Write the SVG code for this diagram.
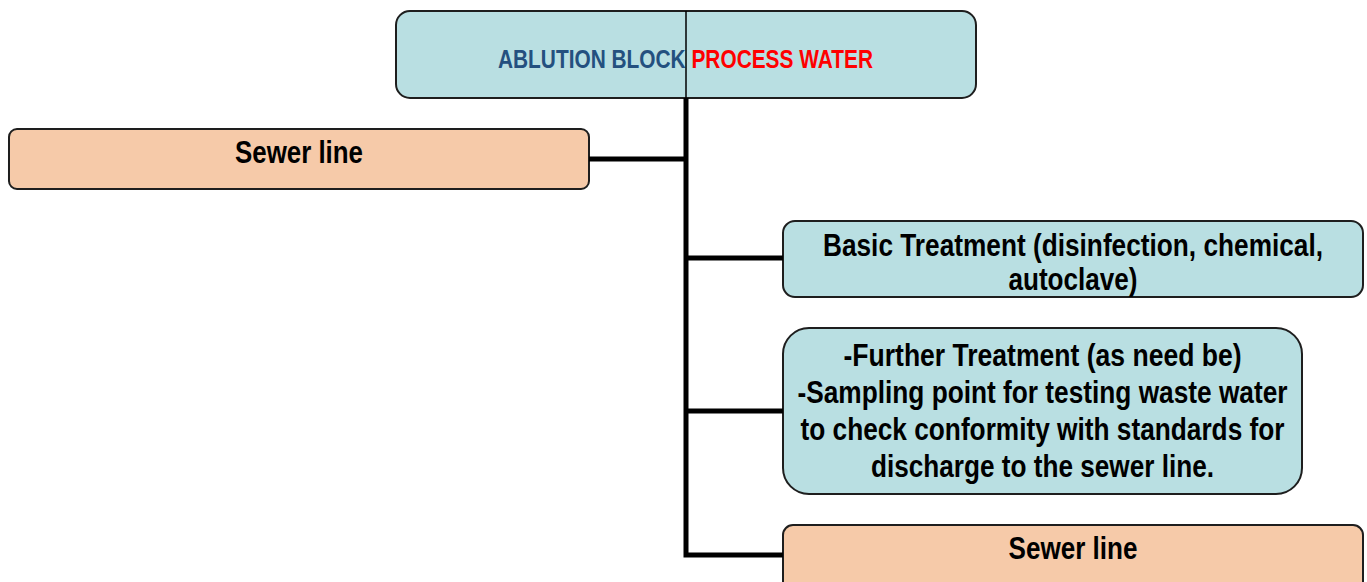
<svg xmlns="http://www.w3.org/2000/svg" width="1367" height="582" viewBox="0 0 1367 582">
<style>
.box{stroke:#1e1e1e;stroke-width:2}
.cyan{fill:#b9dfe2}
.peach{fill:#f6caa9}
.t{font-family:"Liberation Sans Narrow","Arial Narrow","Liberation Sans",sans-serif;font-weight:bold;font-size:32px;fill:#000;text-anchor:middle}
.hdr{font-size:25px}
.conn{fill:none;stroke:#000;stroke-width:5;stroke-linejoin:miter}
</style>
<rect width="1367" height="582" fill="#fff"/>
<g id="header">
<rect class="box cyan" x="396" y="11" width="580" height="87" rx="14"/>
<text class="t hdr" x="685.5" y="68" textLength="375" lengthAdjust="spacingAndGlyphs"><tspan fill="#24507f">ABLUTION BLOCK </tspan><tspan fill="#ff0000">PROCESS WATER</tspan></text>
</g>
<g id="sewer-left">
<rect class="box peach" x="9" y="129" width="580" height="60" rx="8"/>
<text class="t" x="299" y="163" textLength="128" lengthAdjust="spacingAndGlyphs">Sewer line</text>
</g>
<g id="basic">
<rect class="box cyan" x="783" y="221" width="580" height="76" rx="12"/>
<text class="t" x="1073" y="256" textLength="500" lengthAdjust="spacingAndGlyphs">Basic Treatment (disinfection, chemical,</text>
<text class="t" x="1073" y="290" textLength="129" lengthAdjust="spacingAndGlyphs">autoclave)</text>
</g>
<g id="further">
<rect class="box cyan" x="783" y="328" width="519" height="166" rx="26"/>
<text class="t" x="1042.5" y="366" textLength="398" lengthAdjust="spacingAndGlyphs">-Further Treatment (as need be)</text>
<text class="t" x="1042.5" y="403" textLength="490" lengthAdjust="spacingAndGlyphs">-Sampling point for testing waste water</text>
<text class="t" x="1042.5" y="440" textLength="484" lengthAdjust="spacingAndGlyphs">to check conformity with standards for</text>
<text class="t" x="1042.5" y="477" textLength="343" lengthAdjust="spacingAndGlyphs">discharge to the sewer line.</text>
</g>
<g id="sewer-bottom">
<rect class="box peach" x="783" y="525" width="580" height="75" rx="10"/>
<text class="t" x="1073" y="559" textLength="129" lengthAdjust="spacingAndGlyphs">Sewer line</text>
</g>
<g id="connectors">
<line x1="686" y1="11" x2="686" y2="98" stroke="#000" stroke-width="1.5"/>
<path class="conn" d="M686,98 V555 H783"/>
<path class="conn" d="M589,159 H686"/>
<path class="conn" d="M686,258 H783"/>
<path class="conn" d="M686,411 H783"/>
</g>
</svg>
